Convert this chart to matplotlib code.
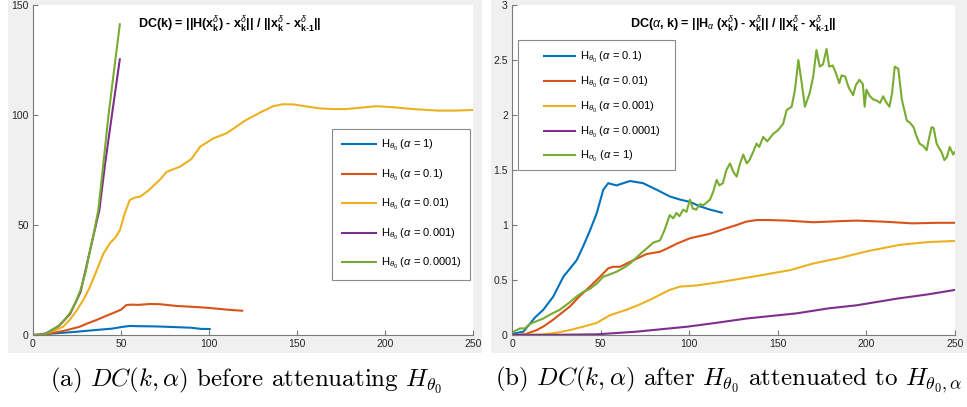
import matplotlib
matplotlib.use("Agg")
import matplotlib.pyplot as plt
from matplotlib.patches import Rectangle
from matplotlib.ticker import FormatStrFormatter

plt.rcParams["font.family"] = ["Liberation Sans", "DejaVu Sans"]
plt.rcParams["mathtext.fontset"] = "custom"
plt.rcParams["mathtext.rm"] = "Liberation Sans"
plt.rcParams["mathtext.it"] = "Liberation Sans:italic"
plt.rcParams["mathtext.bf"] = "Liberation Sans:bold"

COLORS = ["#0072BD", "#D95319", "#EDB120", "#7E2F8E", "#77AC30"]

# ---- panel (a): before attenuating ----
a_labels = [r"H$_{\theta_0}$ ($\alpha$ = 1)", r"H$_{\theta_0}$ ($\alpha$ = 0.1)",
            r"H$_{\theta_0}$ ($\alpha$ = 0.01)", r"H$_{\theta_0}$ ($\alpha$ = 0.001)",
            r"H$_{\theta_0}$ ($\alpha$ = 0.0001)"]
a_k_1 = [0, 5, 10, 17, 25, 36, 45, 50, 55, 60, 70, 83.5, 90, 95, 101]
a_v_1 = [0, 0.2, 0.6, 1, 1.5, 2.3, 2.9, 3.6, 4.1, 4.0, 3.9, 3.5, 3.3, 2.8, 2.7]
a_k_01 = [0, 5, 10, 17, 22, 26.7, 31, 36, 41, 45.6, 50, 53, 56, 60, 66.5, 72,
          81.6, 93, 100, 112, 119.5]
a_v_01 = [0, 0.1, 0.8, 1.8, 2.8, 3.8, 5.3, 6.8, 8.5, 10, 11.5, 13.6, 13.8, 13.7,
          14.1, 14, 13.2, 12.7, 12.3, 11.4, 11]
a_k_001 = [0, 5, 8, 12, 17, 21, 25, 29, 32.4, 36, 40, 43.8, 47, 49.4, 52, 55, 58,
           61, 66, 72, 76, 83.5, 90, 95, 102.5, 110, 121, 130, 136.5, 142, 148,
           156, 163, 170, 178, 186, 195, 205, 216, 230, 240, 250]
a_v_001 = [0, 0.2, 0.8, 2, 3.7, 7, 11.4, 16.5, 22, 29, 37, 41.8, 44.5, 47.7, 55,
           61.4, 62.5, 62.9, 66, 70.5, 74.2, 76.5, 80, 85.6, 89.4, 91.7, 97.7,
           101.5, 104, 104.9, 104.8, 103.8, 103, 102.7, 102.7, 103.3, 104, 103.5,
           102.7, 102, 102, 102.3]
a_k_0001 = [0, 5, 8, 15, 21, 27, 32, 37.7, 41, 44.7, 49.4]
a_v_0001 = [0, 0.2, 1, 4.3, 9.5, 19.5, 37, 56.8, 78, 99.2, 125.8]
a_k_00001 = [0, 3, 6, 8, 12, 15, 18, 21, 24, 27, 30, 32, 35, 37.1, 40, 42.8, 46, 49.4]
a_v_00001 = [0, 0, 0.3, 1, 2.8, 4.5, 7, 10, 14.5, 20.5, 29, 37, 48, 56.8, 78,
             99.2, 120, 141.7]

# ---- panel (b): after attenuating ----
b_labels = [r"H$_{\theta_0}$ ($\alpha$ = 0.1)", r"H$_{\theta_0}$ ($\alpha$ = 0.01)",
            r"H$_{\theta_0}$ ($\alpha$ = 0.001)", r"H$_{\theta_0}$ ($\alpha$ = 0.0001)",
            r"H$_{\sigma_0}$ ($\alpha$ = 1)"]
b_k_01 = [0, 6.4, 10, 13, 17.7, 23.3, 29, 36.5, 40, 44, 47.8, 51.5, 54.3, 59,
          66.6, 74, 81.7, 89, 95, 100.5, 106, 111.7, 119]
b_v_01 = [0.01, 0.03, 0.1, 0.16, 0.23, 0.35, 0.53, 0.68, 0.8, 0.95, 1.106, 1.32,
          1.38, 1.36, 1.40, 1.38, 1.32, 1.26, 1.23, 1.21, 1.17, 1.14, 1.11]
b_k_001 = [0, 3, 8, 14, 18, 23.3, 28, 32.7, 38, 44, 49.7, 54.3, 57, 61, 68.5, 76,
           83.5, 88, 93, 100.5, 111.7, 119, 126.8, 132, 138, 145, 155, 170, 185,
           194.5, 210, 226, 240, 250]
b_v_001 = [0, 0, 0.01, 0.045, 0.08, 0.14, 0.2, 0.26, 0.35, 0.44, 0.53, 0.606,
           0.62, 0.62, 0.68, 0.736, 0.757, 0.79, 0.83, 0.88, 0.92, 0.96, 1.0,
           1.03, 1.045, 1.045, 1.04, 1.025, 1.035, 1.04, 1.03, 1.015, 1.02, 1.02]
b_k_0001 = [0, 17, 25, 32.7, 40, 47.8, 55.3, 64.7, 71, 77.9, 84, 89, 94.8, 104,
            119, 138, 157, 170, 185, 200, 219, 235, 250]
b_v_0001 = [0, 0.005, 0.02, 0.045, 0.075, 0.11, 0.18, 0.23, 0.27, 0.32, 0.37,
            0.41, 0.44, 0.45, 0.485, 0.536, 0.59, 0.65, 0.70, 0.76, 0.82, 0.845,
            0.855]
b_k_00001 = [0, 20, 47.8, 70, 98.6, 115, 132.5, 160.7, 179, 194.5, 217, 235, 250]
b_v_00001 = [0, 0.001, 0.006, 0.03, 0.075, 0.11, 0.15, 0.197, 0.243, 0.27, 0.33,
             0.37, 0.41]
b_k_sigma = [0, 2, 4.5, 7.3, 10, 13, 17.7, 22, 27, 32, 36.5, 40, 44, 48, 51.5, 55,
             59, 63, 66.6, 70, 74, 77, 79.7, 83.5, 86, 89, 91, 92.8, 94.5, 96.6,
             98.5, 100.4, 102, 104, 106, 108, 111.7, 113.5, 115.5, 117, 119, 121,
             123, 125, 126.8, 128.5, 130.5, 132.5, 134, 136, 138, 139.5, 141.8,
             144, 147.5, 150, 153, 155, 157.8, 159.7, 161.6, 163.5, 165.3, 168,
             170, 171.8, 173.7, 175.5, 177.5, 179, 181, 182.8, 184.7, 186, 188,
             190, 192.5, 194, 196, 198, 199, 200, 202, 204, 206, 207.7, 209.5,
             211, 213, 214.5, 216, 218, 220, 222.8, 224.5, 226.6, 228, 230, 232,
             234, 235.5, 236.8, 238, 239.6, 241, 242.5, 244, 245.5, 247, 249, 250]
b_v_sigma = [0.02, 0.04, 0.06, 0.06, 0.1, 0.12, 0.15, 0.19, 0.23, 0.29, 0.35,
             0.39, 0.42, 0.47, 0.53, 0.55, 0.575, 0.61, 0.65, 0.7, 0.76, 0.8,
             0.84, 0.86, 0.95, 1.09, 1.06, 1.11, 1.08, 1.14, 1.12, 1.23, 1.15,
             1.14, 1.19, 1.18, 1.23, 1.3, 1.41, 1.36, 1.38, 1.50, 1.56, 1.48,
             1.44, 1.55, 1.64, 1.56, 1.59, 1.66, 1.74, 1.71, 1.80, 1.76, 1.83,
             1.86, 1.92, 2.045, 2.075, 2.23, 2.50, 2.29, 2.075, 2.2, 2.35, 2.59,
             2.44, 2.46, 2.60, 2.44, 2.45, 2.38, 2.29, 2.36, 2.35, 2.25, 2.18,
             2.27, 2.32, 2.28, 2.075, 2.23, 2.17, 2.14, 2.13, 2.11, 2.17, 2.12,
             2.075, 2.2, 2.44, 2.42, 2.14, 1.95, 1.93, 1.89, 1.82, 1.74, 1.72,
             1.68, 1.8, 1.89, 1.88, 1.74, 1.70, 1.66, 1.59, 1.62, 1.71, 1.64, 1.67]

W, H = 967, 407
fig = plt.figure(figsize=(W / 100, H / 100), dpi=100)


def px_rect(x0, y0, x1, y1):
    # pixel box (top-left origin) -> figure fraction [l, b, w, h]
    return [x0 / W, 1 - y1 / H, (x1 - x0) / W, (y1 - y0) / H]


# matlab-style gray figure panels, kept behind the axes
for x0, x1 in [(8, 482), (491, 967)]:
    l, b, w, h = px_rect(x0, 0, x1, 353)
    fig.patches.append(Rectangle((l, b), w, h, transform=fig.transFigure,
                                 facecolor="#f0f0f0", edgecolor="none", zorder=-5))


def style_axes(ax):
    ax.set_facecolor("white")
    for s in ["top", "right"]:
        ax.spines[s].set_visible(False)
    for s in ["left", "bottom"]:
        ax.spines[s].set_color("#7a7a7a")
        ax.spines[s].set_linewidth(0.8)
    ax.tick_params(direction="in", length=3.5, width=0.8, color="#7a7a7a",
                   labelsize=7.5, labelcolor="#262626", pad=3)
    ax.set_xlim(0, 250)
    ax.set_xticks([0, 50, 100, 150, 200, 250])


XK = r"x${}_{\mathbf{k}}^{\delta}$"
XK1 = r"x${}_{\mathbf{k\text{-}1}}^{\delta}$"

# ---- (a)
ax1 = fig.add_axes(px_rect(33, 5, 473, 335))
style_axes(ax1)
series_a = [(a_k_1, a_v_1), (a_k_01, a_v_01), (a_k_001, a_v_001),
            (a_k_0001, a_v_0001), (a_k_00001, a_v_00001)]
for (k, v), c, lab in zip(series_a, COLORS, a_labels):
    ax1.plot(k, v, color=c, lw=1.5, label=lab, solid_capstyle="butt")
ax1.set_ylim(0, 150)
ax1.set_yticks([0, 50, 100, 150])
ax1.text(105 / 440, 0.94,
         "DC(k) = ||H(" + XK + ") - " + XK + "|| / ||" + XK + " - " + XK1 + "||",
         transform=ax1.transAxes, fontsize=9, fontweight="bold",
         ha="left", va="center")
leg1 = ax1.legend(loc="upper left", bbox_to_anchor=(0.679, 0.623), borderaxespad=0,
                  fontsize=8, handlelength=3.3, labelspacing=1.3,
                  fancybox=False, framealpha=1, edgecolor="#8a8a8a",
                  borderpad=0.8, handletextpad=0.3)
leg1.get_frame().set_linewidth(0.8)

# ---- (b)
ax2 = fig.add_axes(px_rect(512, 5, 955, 335))
style_axes(ax2)
series_b = [(b_k_01, b_v_01), (b_k_001, b_v_001), (b_k_0001, b_v_0001),
            (b_k_00001, b_v_00001), (b_k_sigma, b_v_sigma)]
for (k, v), c, lab in zip(series_b, COLORS, b_labels):
    ax2.plot(k, v, color=c, lw=1.5, label=lab, solid_capstyle="butt")
ax2.set_ylim(0, 3)
ax2.set_yticks([0, 0.5, 1, 1.5, 2, 2.5, 3])
ax2.yaxis.set_major_formatter(FormatStrFormatter("%g"))
ax2.text(0.5, 0.94,
         r"DC($\alpha$, k) = ||H$_{\alpha}$ (" + XK + ") - " + XK + "|| / ||"
         + XK + " - " + XK1 + "||",
         transform=ax2.transAxes, fontsize=9, fontweight="bold",
         ha="center", va="center")
# this legend box is wider than its content (matlab), so draw the frame by hand
ax2.add_patch(Rectangle((6 / 443, 165 / 330), 157 / 443, 130 / 330,
                        transform=ax2.transAxes, facecolor="white",
                        edgecolor="#8a8a8a", lw=0.8, zorder=4.5))
ax2.legend(loc="upper left", bbox_to_anchor=(31 / 443, 285 / 330), borderaxespad=0,
           fontsize=8, handlelength=3.0, labelspacing=0.88, frameon=False,
           borderpad=0, handletextpad=0.3)

# ---- captions (LaTeX-like)
fig.text(246 / W, 1 - 380 / H,
         r"(a) $DC(k, \alpha)$ before attenuating $H_{\theta_0}$",
         family="cmr10", math_fontfamily="cm", fontsize=18,
         ha="center", va="center")
fig.text(728 / W, 1 - 380 / H,
         r"(b) $DC(k, \alpha)$ after $H_{\theta_0}$ attenuated to $H_{\theta_0,\alpha}$",
         family="cmr10", math_fontfamily="cm", fontsize=18,
         ha="center", va="center")

fig.savefig("out.png", dpi=100)
